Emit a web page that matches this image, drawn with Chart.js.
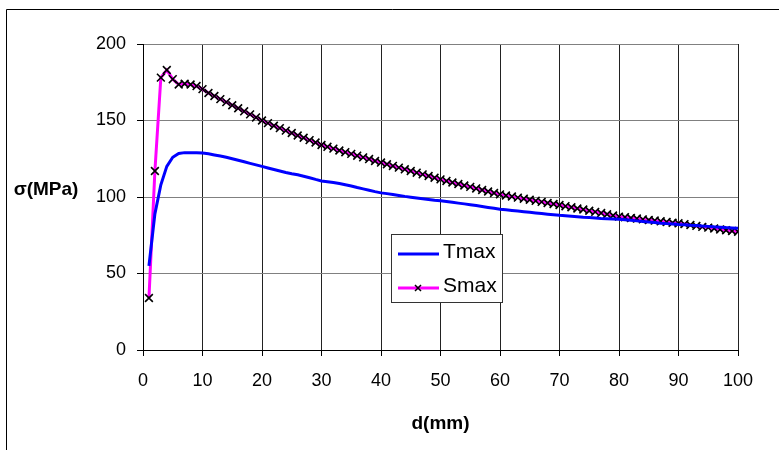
<!DOCTYPE html>
<html>
<head>
<meta charset="utf-8">
<script src="https://cdn.jsdelivr.net/npm/chart.js@4"></script>
<style>
  html, body { margin: 0; padding: 0; background: #fff; }
  canvas { display: block; }
</style>
</head>
<body>
<canvas id="chart" width="779" height="450"></canvas>
<script>
// d (mm)
const distances = [
    1, 2, 3, 4, 5, 6, 7, 8, 9, 10,
    11, 12, 13, 14, 15, 16, 17, 18, 19, 20,
    21, 22, 23, 24, 25, 26, 27, 28, 29, 30,
    31, 32, 33, 34, 35, 36, 37, 38, 39, 40,
    41, 42, 43, 44, 45, 46, 47, 48, 49, 50,
    51, 52, 53, 54, 55, 56, 57, 58, 59, 60,
    61, 62, 63, 64, 65, 66, 67, 68, 69, 70,
    71, 72, 73, 74, 75, 76, 77, 78, 79, 80,
    81, 82, 83, 84, 85, 86, 87, 88, 89, 90,
    91, 92, 93, 94, 95, 96, 97, 98, 99, 100
];

// Tmax (MPa)
const tmax = [
    55, 89, 108, 120, 126, 128.5, 129, 129, 129, 128.7,
    128.2, 127.5, 126.8, 126, 125, 124, 123, 122, 121, 120,
    119, 118, 117, 116, 115.2, 114.5, 113.6, 112.6, 111.5, 110.5,
    110, 109.5, 108.8, 108, 107.2, 106.2, 105.3, 104.4, 103.5, 102.7,
    102.2, 101.6, 101, 100.4, 99.9, 99.4, 98.9, 98.4, 97.9, 97.5,
    97, 96.5, 96, 95.5, 95, 94.4, 93.8, 93.2, 92.6, 92,
    91.6, 91.2, 90.8, 90.4, 90, 89.6, 89.2, 88.8, 88.4, 88,
    87.7, 87.4, 87.1, 86.8, 86.6, 86.3, 86, 85.8, 85.6, 85.4,
    85.1, 84.8, 84.4, 84, 83.6, 83.3, 82.9, 82.6, 82.3, 82,
    81.8, 81.5, 81.3, 81, 80.8, 80.5, 80.3, 80, 79.8, 79.5
];

// Smax (MPa)
const smax = [
    34, 117, 178, 183, 177, 173.5, 174, 173.5, 172.5, 170.5,
    168, 166, 164, 162, 160, 158, 156, 154, 152, 150,
    148.3, 146.6, 145, 143.4, 141.8, 140.2, 138.7, 137.2, 135.6, 134,
    132.8, 131.6, 130.4, 129.3, 128.2, 127, 125.9, 124.8, 123.5, 122.5,
    121.4, 120.3, 119.2, 118.1, 117, 115.9, 114.8, 113.7, 112.6, 111.5,
    110.5, 109.5, 108.5, 107.5, 106.6, 105.6, 104.6, 103.6, 102.6, 101.7,
    101, 100.3, 99.6, 98.9, 98.2, 97.5, 96.8, 96.1, 95.4, 94.8,
    94, 93.3, 92.5, 91.8, 91, 90.3, 89.5, 88.7, 87.9, 87.2,
    86.8, 86.3, 85.9, 85.4, 85, 84.6, 84.1, 83.7, 83.2, 82.8,
    82.3, 81.7, 81.1, 80.5, 80, 79.4, 78.8, 78.3, 77.8, 77.3
];

const seriesNames = ['Tmax', 'Smax'];
const xTitle = 'd(mm)';
const yTitle = 'σ(MPa)';

const FONT = '"Liberation Sans", Arial, sans-serif';
const BLUE = '#0000ff';
const MAGENTA = '#ff00ff';

function toPoints(ys) {
    return distances.map((d, i) => ({ x: d, y: ys[i] }));
}

// frame, axis titles and boxed legend like the Excel original
const decorations = {
    id: 'decorations',
    beforeDraw(chart) {
        const ctx = chart.ctx;
        ctx.save();
        ctx.fillStyle = '#fff';
        ctx.fillRect(0, 0, chart.width, chart.height);
        ctx.strokeStyle = '#000';
        ctx.lineWidth = 1;
        ctx.beginPath();
        ctx.moveTo(6.5, chart.height);
        ctx.lineTo(6.5, 9.5);
        ctx.lineTo(chart.width, 9.5);
        ctx.stroke();
        ctx.restore();
    },
    afterDraw(chart) {
        const ctx = chart.ctx;
        const area = chart.chartArea;
        ctx.save();
        ctx.fillStyle = '#000';
        ctx.font = 'bold 19px ' + FONT;
        ctx.textAlign = 'center';
        ctx.textBaseline = 'middle';
        ctx.fillText(yTitle, 46, 190);
        ctx.fillText(xTitle, (area.left + area.right) / 2, 424);

        // legend
        const lx = 391.5, ly = 234.5, lw = 111, lh = 68;
        ctx.fillStyle = '#fff';
        ctx.fillRect(lx, ly, lw, lh);
        ctx.strokeStyle = '#333';
        ctx.lineWidth = 1;
        ctx.strokeRect(lx, ly, lw, lh);

        const rows = [254, 288];
        const colors = [BLUE, MAGENTA];
        ctx.font = '21px ' + FONT;
        ctx.textAlign = 'left';
        rows.forEach((y, i) => {
            ctx.strokeStyle = colors[i];
            ctx.lineWidth = 3;
            ctx.beginPath();
            ctx.moveTo(398, y);
            ctx.lineTo(439, y);
            ctx.stroke();
            ctx.fillStyle = '#000';
            ctx.fillText(seriesNames[i], 443, y - 2);
        });
        // marker on Smax sample
        ctx.strokeStyle = '#000';
        ctx.lineWidth = 1.5;
        ctx.beginPath();
        ctx.moveTo(415, rows[1] - 3);
        ctx.lineTo(421, rows[1] + 3);
        ctx.moveTo(421, rows[1] - 3);
        ctx.lineTo(415, rows[1] + 3);
        ctx.stroke();
        ctx.restore();
    }
};

const ctx = document.getElementById('chart').getContext('2d');

const chart = new Chart(ctx, {
    type: 'line',
    data: {
        datasets: [{
            label: seriesNames[0],
            data: toPoints(tmax),
            borderColor: BLUE,
            borderWidth: 3,
            pointRadius: 0,
            fill: false,
            tension: 0
        }, {
            label: seriesNames[1],
            data: toPoints(smax),
            borderColor: MAGENTA,
            borderWidth: 3,
            pointStyle: 'crossRot',
            pointRadius: 5.5,
            pointBorderColor: '#000',
            pointBorderWidth: 1.6,
            fill: false,
            tension: 0
        }]
    },
    options: {
        responsive: false,
        animation: false,
        layout: {
            padding: { left: 0, top: 44, right: 41, bottom: 0 }
        },
        scales: {
            x: {
                type: 'linear',
                min: 0,
                max: 100,
                afterFit: (scale) => { scale.height = 100; },
                ticks: {
                    stepSize: 10,
                    color: '#000',
                    padding: 14,
                    maxRotation: 0,
                    font: { family: FONT, size: 18 }
                },
                grid: {
                    color: '#222',
                    lineWidth: 1,
                    tickLength: 6,
                    tickColor: '#000'
                },
                border: { color: '#000', width: 1 }
            },
            y: {
                min: 0,
                max: 200,
                afterFit: (scale) => { scale.width = 143; },
                ticks: {
                    stepSize: 50,
                    color: '#000',
                    padding: 11,
                    font: { family: FONT, size: 18 }
                },
                grid: {
                    color: '#808080',
                    lineWidth: 1,
                    tickLength: 6,
                    tickColor: '#000'
                },
                border: { color: '#000', width: 1 }
            }
        },
        plugins: {
            legend: { display: false },
            tooltip: { enabled: false }
        }
    },
    plugins: [decorations]
});
</script>
</body>
</html>
